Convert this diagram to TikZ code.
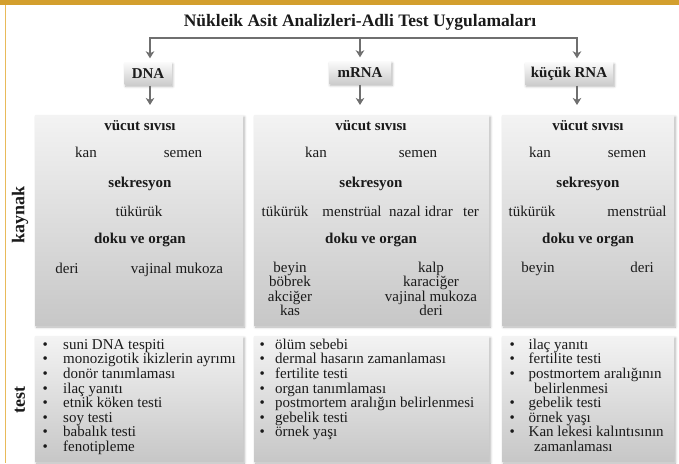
\documentclass[tikz,border=0pt]{standalone}
\usepackage{fontspec}
\setmainfont{Liberation Serif}
\usetikzlibrary{arrows.meta,shadows.blur}

\definecolor{goldbar}{HTML}{D39F2E}
\definecolor{goldline}{HTML}{E8BA5A}
\definecolor{arrowgray}{HTML}{6F6F6F}
\definecolor{paneltop}{HTML}{F3F3F3}
\definecolor{panelbot}{HTML}{C7C7C7}
\definecolor{tagtop}{HTML}{FAFAFA}
\definecolor{tagbot}{HTML}{CDCDCD}
\definecolor{ink}{HTML}{1A1A1A}

\begin{document}
\begin{tikzpicture}[x=1pt,y=-1pt,
  every node/.style={text=ink, inner sep=0pt},
  txt/.style={font=\fontsize{15}{15}\selectfont, anchor=mid},
  hd/.style={font=\bfseries\fontsize{15}{15}\selectfont, anchor=mid},
  item/.style={font=\fontsize{15}{15}\selectfont, anchor=mid west},
  softshadow/.style={blur shadow={shadow xshift=1.2pt, shadow yshift=-1.8pt,
      shadow blur radius=2.5pt, shadow blur steps=6, shadow opacity=30}},
  panel/.style={rectangle, anchor=north west, top color=paneltop,
      bottom color=panelbot, softshadow},
  tag/.style={rectangle, top color=tagtop, bottom color=tagbot, softshadow,
      font=\bfseries\fontsize{15}{15}\selectfont, minimum height=22pt},
  conn/.style={draw=arrowgray, line width=1.8pt,
      -{Stealth[length=7pt,width=8.5pt,inset=2pt]}},
  side/.style={font=\bfseries\fontsize{18}{18}\selectfont, rotate=90}
]
\useasboundingbox (0,0) rectangle (679,463);

% frame: gold top band and thin gold rule on the left
\fill[goldbar] (0,0) rectangle (679,4.5);
\fill[goldline] (4.8,4.5) rectangle (6.3,463);

% title
\node[font=\bfseries\fontsize{17.5}{17.5}\selectfont, anchor=mid] (title) at (360,24) {Nükleik Asit Analizleri-Adli Test Uygulamaları};

% category tags
\node[tag, minimum width=47pt] (tDNA) at (148,73.5) {DNA};
\node[tag, minimum width=62pt] (tmRNA) at (360,72.5) {mRNA};
\node[tag, minimum width=88pt] (tRNA) at (569,73.5) {küçük RNA};

% panels
\node[panel, minimum width=208pt, minimum height=210pt] (pDsrc) at (35,115) {};
\node[panel, minimum width=235pt, minimum height=210pt] (pMsrc) at (254,115) {};
\node[panel, minimum width=172pt, minimum height=210pt] (pRsrc) at (502,115) {};
\node[panel, minimum width=208pt, minimum height=125pt] (pDtest) at (35,336) {};
\node[panel, minimum width=235pt, minimum height=125pt] (pMtest) at (254,336) {};
\node[panel, minimum width=172pt, minimum height=125pt] (pRtest) at (502,336) {};

% row labels
\node[side] (lsrc) at (20,215) {kaynak};
\node[side] (ltest) at (20,400) {test};

% connectors
\coordinate (split) at (360,38);
\coordinate (xD) at (150,38);
\coordinate (xR) at (577,38);
\draw[conn, shorten >=4pt] (split) -- (xD) -- (xD |- tDNA.north);
\draw[conn, shorten >=4pt] (split) -- (split |- tmRNA.north);
\draw[conn, shorten >=4pt] (split) -- (xR) -- (xR |- tRNA.north);
\draw[conn, shorten <=1pt, shorten >=10pt] (xD |- tDNA.south) -- (xD |- pDsrc.north);
\draw[conn, shorten <=1pt, shorten >=10pt] (split |- tmRNA.south) -- (split |- pMsrc.north);
\draw[conn, shorten <=1pt, shorten >=10pt] (xR |- tRNA.south) -- (xR |- pRsrc.north);

% DNA sources
\node[hd]  (d1) at (140,128) {vücut sıvısı};
\node[txt] (d2) at (86,155) {kan};
\node[txt] (d3) at (183,155) {semen};
\node[hd]  (d4) at (140,185) {sekresyon};
\node[txt] (d5) at (139,214) {tükürük};
\node[hd]  (d6) at (140,241) {doku ve organ};
\node[txt] (d7) at (67,271) {deri};
\node[txt] (d8) at (177,271) {vajinal mukoza};

% mRNA sources
\node[hd]  (m1) at (371,128) {vücut sıvısı};
\node[txt] (m2) at (316,155) {kan};
\node[txt] (m3) at (418,155) {semen};
\node[hd]  (m4) at (371,185) {sekresyon};
\node[txt] (m5) at (285,214) {tükürük};
\node[txt] (m6) at (352,214) {menstrüal};
\node[txt] (m7) at (421,214) {nazal idrar};
\node[txt] (m8) at (471,214) {ter};
\node[hd]  (m9) at (371,241) {doku ve organ};
\foreach \w [count=\i] in {beyin,böbrek,akciğer,kas}
  \node[txt] (ml\i) at (290,{270+14.4*(\i-1)}) {\w};
\foreach \w [count=\i] in {kalp,karaciğer,vajinal mukoza,deri}
  \node[txt] (mr\i) at (431,{270+14.4*(\i-1)}) {\w};

% small RNA sources
\node[hd]  (r1) at (588,128) {vücut sıvısı};
\node[txt] (r2) at (540,155) {kan};
\node[txt] (r3) at (627,155) {semen};
\node[hd]  (r4) at (588,185) {sekresyon};
\node[txt] (r5) at (532,214) {tükürük};
\node[txt] (r6) at (637,214) {menstrüal};
\node[hd]  (r7) at (588,241) {doku ve organ};
\node[txt] (r8) at (538,270) {beyin};
\node[txt] (r9) at (642,270) {deri};

% test lists
\foreach \w [count=\i] in {suni DNA tespiti,monozigotik ikizlerin ayrımı,donör tanımlaması,ilaç yanıtı,etnik köken testi,soy testi,babalık testi,fenotipleme}
  \node[item] (dt\i) at (42.5,{347+14.6*(\i-1)}) {\makebox[20.5pt][l]{\textbullet}\w};
\foreach \w [count=\i] in {ölüm sebebi,dermal hasarın zamanlaması,fertilite testi,organ tanımlaması,postmortem aralığın belirlenmesi,gebelik testi,örnek yaşı}
  \node[item] (mt\i) at (259.5,{347+14.6*(\i-1)}) {\makebox[15.5pt][l]{\textbullet}\w};
\foreach \w/\b [count=\i] in {ilaç yanıtı/1,fertilite testi/1,postmortem aralığının/1,belirlenmesi/0,gebelik testi/1,örnek yaşı/1,Kan lekesi kalıntısının/1,zamanlaması/0}
  \node[item] (rt\i) at (509.5,{347+14.6*(\i-1)})
    {\ifnum\b=1 \makebox[19pt][l]{\textbullet}\else\hspace*{24.5pt}\fi\w};
\end{tikzpicture}
\end{document}
